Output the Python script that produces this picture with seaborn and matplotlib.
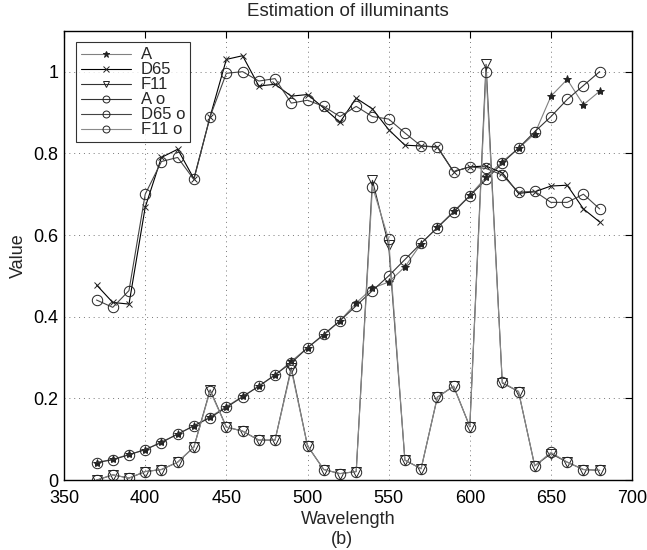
import matplotlib
matplotlib.use("Agg")
import matplotlib.pyplot as plt
import seaborn as sns
import pandas as pd

# wavelengths (nm)
wavelength = [370, 380, 390, 400, 410, 420, 430, 440, 450, 460, 470, 480, 490, 500, 510, 520,
              530, 540, 550, 560, 570, 580, 590, 600, 610, 620, 630, 640, 650, 660, 670, 680]

# true illuminants
a_true = [0.043, 0.051, 0.063, 0.074, 0.094, 0.112, 0.133, 0.155, 0.180, 0.205, 0.230, 0.257,
          0.291, 0.324, 0.355, 0.390, 0.434, 0.470, 0.485, 0.522, 0.579, 0.619, 0.658, 0.697,
          0.742, 0.780, 0.812, 0.848, 0.940, 0.981, 0.919, 0.952]
d65_true = [0.478, 0.435, 0.431, 0.668, 0.790, 0.810, 0.738, 0.890, 1.030, 1.039, 0.965, 0.969,
            0.940, 0.944, 0.911, 0.876, 0.935, 0.909, 0.858, 0.820, 0.818, 0.816, 0.755, 0.767,
            0.769, 0.752, 0.702, 0.706, 0.720, 0.722, 0.664, 0.632]
f11_true = [0.000, 0.013, 0.005, 0.021, 0.026, 0.044, 0.081, 0.221, 0.130, 0.120, 0.098, 0.098,
            0.275, 0.084, 0.026, 0.016, 0.021, 0.734, 0.575, 0.049, 0.028, 0.203, 0.230, 0.131,
            1.018, 0.238, 0.217, 0.035, 0.065, 0.044, 0.026, 0.024]

# estimated illuminants
a_est = [0.043, 0.050, 0.062, 0.075, 0.092, 0.113, 0.133, 0.153, 0.178, 0.204, 0.230, 0.258,
         0.287, 0.324, 0.357, 0.390, 0.427, 0.464, 0.500, 0.540, 0.580, 0.618, 0.656, 0.696,
         0.736, 0.776, 0.813, 0.853, 0.890, 0.932, 0.966, 1.000]
d65_est = [0.441, 0.423, 0.464, 0.700, 0.780, 0.790, 0.736, 0.890, 0.996, 1.000, 0.977, 0.983,
           0.923, 0.930, 0.915, 0.890, 0.915, 0.890, 0.884, 0.850, 0.818, 0.815, 0.755, 0.767,
           0.763, 0.747, 0.705, 0.707, 0.680, 0.680, 0.700, 0.664]
f11_est = [0.000, 0.013, 0.005, 0.021, 0.026, 0.044, 0.081, 0.218, 0.130, 0.120, 0.098, 0.098,
           0.270, 0.084, 0.026, 0.016, 0.021, 0.718, 0.590, 0.049, 0.028, 0.203, 0.230, 0.131,
           1.000, 0.240, 0.217, 0.035, 0.068, 0.044, 0.026, 0.024]

labels = ["A", "D65", "F11", "A o", "D65 o", "F11 o"]
series = [a_true, d65_true, f11_true, a_est, d65_est, f11_est]

sns.set_style("white")
plt.rcParams["font.family"] = ["Liberation Sans", "DejaVu Sans"]

fig = plt.figure(figsize=(6.47, 5.5), dpi=100)
ax = fig.add_axes([0.099, 0.127, 0.878, 0.817])

# (marker, line colour, marker size, filled)
styles = [("*", "#808080", 6, True),
          ("x", "black", 5, True),
          ("v", "#333333", 7, False),
          ("o", "#333333", 7.5, False),
          ("o", "#444444", 7.5, False),
          ("o", "#8a8a8a", 7.5, False)]

for lab, vals, (mk, col, ms, filled) in zip(labels, series, styles):
    df = pd.DataFrame({"Wavelength": wavelength, "Value": vals})
    kw = dict(marker=mk, markersize=ms, markeredgewidth=0.7, markeredgecolor="#222222")
    kw["markerfacecolor"] = "#222222" if filled else "none"
    sns.lineplot(data=df, x="Wavelength", y="Value", ax=ax, color=col, linewidth=0.8,
                 label=lab, **kw)

ax.set_xlim(350, 700)
ax.set_ylim(0, 1.1)
ax.set_xticks([350, 400, 450, 500, 550, 600, 650, 700])
ax.set_yticks([0, 0.2, 0.4, 0.6, 0.8, 1.0])
ax.set_yticklabels(["0", "0.2", "0.4", "0.6", "0.8", "1"])
ax.tick_params(direction="in", top=True, right=True, length=5, width=0.8,
               labelsize=13, colors="black")
ax.tick_params(axis="x", pad=7)
ax.tick_params(axis="y", pad=4)
for sp in ax.spines.values():
    sp.set_color("black")
    sp.set_linewidth(1.0)
ax.grid(True, linestyle=(0, (1, 4)), color="#777777", linewidth=0.7)

ax.set_title("Estimation of illuminants", fontsize=13.5, pad=11)
ax.set_xlabel("Wavelength", fontsize=13, labelpad=3)
ax.set_ylabel("Value", fontsize=13, labelpad=5)
fig.text(0.528, 0.003, "(b)", ha="center", va="bottom", fontsize=13)

leg = ax.legend(loc="upper left", fontsize=12, handlelength=3.0, frameon=True, fancybox=False,
                borderpad=0.3, labelspacing=0.0, handletextpad=0.6, borderaxespad=0.7)
leg.get_frame().set_edgecolor("black")
leg.get_frame().set_linewidth(0.8)
for ln in leg.get_lines():
    ln.set_markersize(5)

fig.savefig("out.png", dpi=100)
